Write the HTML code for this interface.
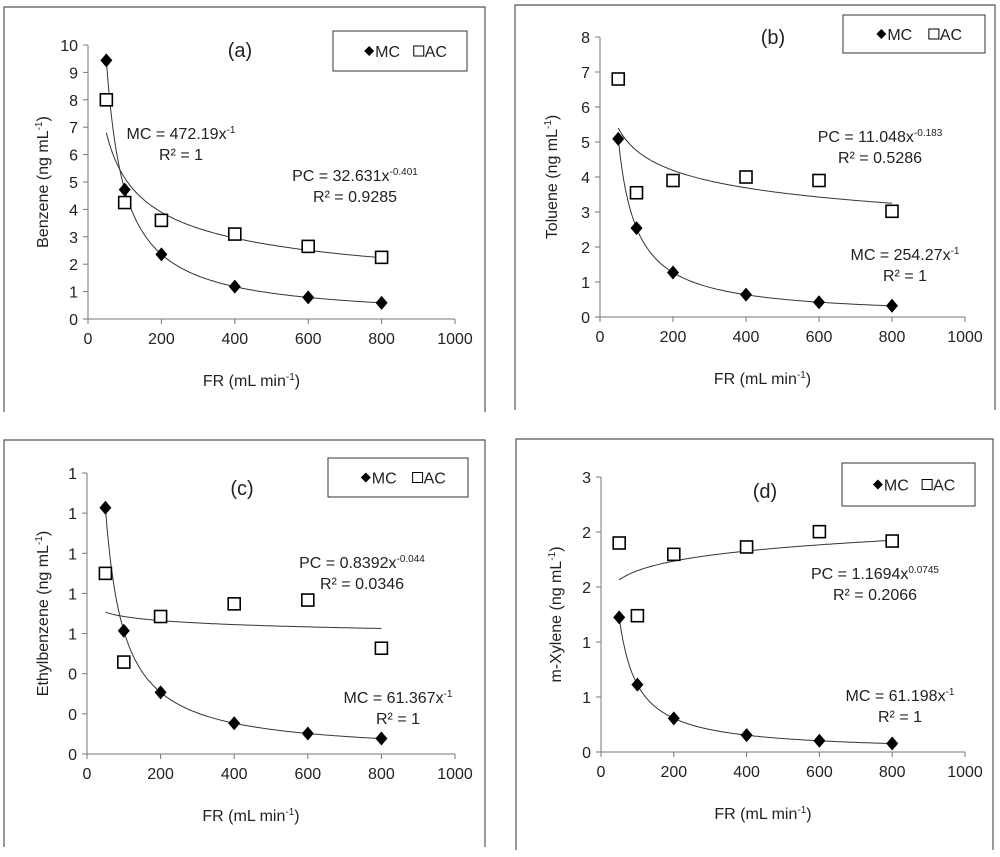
<!DOCTYPE html>
<html><head><meta charset="utf-8"><style>
body{margin:0;background:#fff;}
svg text{font-family:"Liberation Sans",sans-serif;fill:#222;}
</style></head><body>
<svg id="c" width="1000" height="852" viewBox="0 0 1000 852" xmlns="http://www.w3.org/2000/svg"></svg>
<script>
const xValues=[50,100,200,400,600,800];
const xTicks=[0,200,400,600,800,1000];
const mcA=[9.44,4.72,2.36,1.18,0.79,0.59];
const acA=[8.0,4.25,3.6,3.1,2.65,2.25];
const mcB=[5.09,2.54,1.27,0.64,0.42,0.32];
const acB=[6.8,3.55,3.9,4.0,3.9,3.02];
const mcC=[1.227,0.614,0.307,0.153,0.102,0.077];
const acC=[0.90,0.458,0.685,0.748,0.767,0.527];
const mcD=[1.224,0.612,0.306,0.153,0.102,0.077];
const acD=[1.90,1.239,1.797,1.864,2.003,1.918];
const yTicksA=[0,1,2,3,4,5,6,7,8,9,10];
const yTicksB=[0,1,2,3,4,5,6,7,8];
const yTicksC=[0,0.2,0.4,0.6,0.8,1.0,1.2,1.4];
const yTicksD=[0,0.5,1,1.5,2,2.5];
const mcCoef=[472.19,254.27,61.367,61.198];
const pcCoef=[32.631,11.048,0.8392,1.1694];
const pcExp=[-0.401,-0.183,-0.044,0.0745];

const NS="http://www.w3.org/2000/svg";
const svg=document.getElementById('c');
function mk(t,a,p){const e=document.createElementNS(NS,t);for(const k in a)e.setAttribute(k,a[k]);(p||svg).appendChild(e);return e;}
function txt(s,x,y,size,anchor,p){const e=mk('text',{x:x,y:y,'font-size':size,'text-anchor':anchor||'middle'},p);e.textContent=s;return e;}

const panels=[
 {id:'a',mc:mcA,ac:acA,yt:yTicksA,ymax:10,x0:88,x1:455,y0:319,y1:45,frame:[4,7,485,412],leg:[333,31,134,40],lab:[240,57],ytitle:'Benzene (ng mL',ytx:48,mcT:[181,139],pcT:[355,181]},
 {id:'b',mc:mcB,ac:acB,yt:yTicksB,ymax:8,x0:600,x1:965,y0:317,y1:37,frame:[515,5,995,410],leg:[843,15,142,38],lab:[773,44],ytitle:'Toluene (ng mL',ytx:557,mcT:[905,260],pcT:[880,142]},
 {id:'c',mc:mcC,ac:acC,yt:yTicksC,ymax:1.4,x0:87,x1:455,y0:754,y1:473,frame:[4,440,485,847],leg:[328,458,140,39],lab:[242,495],ytitle:'Ethylbenzene (ng mL',ytx:48,mcT:[398,703],pcT:[362,568]},
 {id:'d',mc:mcD,ac:acD,yt:yTicksD,ymax:2.5,x0:601,x1:965,y0:752,y1:477,frame:[516,439,993,850],leg:[842,463,133,43],lab:[765,498],ytitle:'m-Xylene (ng mL',ytx:561,mcT:[900,701],pcT:[875,579]}
];
const mcLbl=['MC = 472.19x','MC = 254.27x','MC = 61.367x','MC = 61.198x'];
const pcLbl=['PC = 32.631x','PC = 11.048x','PC = 0.8392x','PC = 1.1694x'];
const pcSup=['-0.401','-0.183','-0.044','0.0745'];
const pcR=['R² = 0.9285','R² = 0.5286','R² = 0.0346','R² = 0.2066'];

panels.forEach((P,i)=>{
 const g=mk('g',{});
 
 
 const X=v=>P.x0+(P.x1-P.x0)*v/1000;
 const Y=v=>P.y0-(P.y0-P.y1)*v/P.ymax;
 const f=P.frame;
 const fr=mk('path',{d:`M${f[0]},${f[3]}V${f[1]}H${f[2]}V${f[3]}`,fill:'none',stroke:'#555','stroke-width':1.2},g);
 
 
 const ax=mk('path',{d:`M${P.x0},${P.y1}V${P.y0}H${P.x1}`,fill:'none',stroke:'#777','stroke-width':1},g);
 
 
 P.yt.forEach(v=>{
  mk('line',{x1:P.x0-5,x2:P.x0,y1:Y(v),y2:Y(v),stroke:'#777'},g);
  const t=txt(String(Math.round(v+1e-9)),P.x0-10,Y(v)+6,16,'end',g);
  
  
 });
 xTicks.forEach(v=>{
  mk('line',{x1:X(v),x2:X(v),y1:P.y0,y2:P.y0+5,stroke:'#777'},g);
  const t=txt(String(v),X(v),P.y0+25,16,'middle',g);
  
  
 });
 const xt=txt('',(P.x0+P.x1)/2-20,P.y0+67,16,'middle',g);
 xt.innerHTML='FR  (mL min<tspan dy="-6" font-size="10">-1</tspan><tspan dy="6">)</tspan>';
 
 
 const yt=txt('',0,0,16,'middle',g);
 yt.innerHTML=P.ytitle+'<tspan dy="-6" font-size="10">-1</tspan><tspan dy="6">)</tspan>';
 yt.setAttribute('transform',`translate(${P.ytx},${(P.y0+P.y1)/2}) rotate(-90)`);
 
 
 let d='';for(let x=50;x<=800;x+=5){d+=(x==50?'M':'L')+X(x).toFixed(1)+','+Y(mcCoef[i]/x).toFixed(1);}
 const l1=mk('path',{d:d,fill:'none',stroke:'#333','stroke-width':1},g);
 
 
 d='';for(let x=50;x<=800;x+=5){d+=(x==50?'M':'L')+X(x).toFixed(1)+','+Y(pcCoef[i]*Math.pow(x,pcExp[i])).toFixed(1);}
 const l2=mk('path',{d:d,fill:'none',stroke:'#333','stroke-width':1},g);
 
 
 xValues.forEach((x,k)=>{
  const cx=X(x),cy=Y(P.ac[k]);
  const r=mk('rect',{x:cx-6,y:cy-6,width:12,height:12,fill:'#fff',stroke:'#000','stroke-width':1.6},g);
  
  
 });
 xValues.forEach((x,k)=>{
  const cx=X(x),cy=Y(P.mc[k]);
  const p=mk('path',{d:`M${cx},${cy-7}L${cx+6},${cy}L${cx},${cy+7}L${cx-6},${cy}Z`,fill:'#000'},g);
  
  
 });
 const L=P.leg;
 const lg=mk('g',{},g);
 
 
 mk('rect',{x:L[0],y:L[1],width:L[2],height:L[3],fill:'#fff',stroke:'#333','stroke-width':1},lg);
 const my=L[1]+L[3]/2;
 const lx=L[0]+L[2]*0.27;
 mk('path',{d:`M${lx},${my-5}L${lx+5},${my}L${lx},${my+5}L${lx-5},${my}Z`,fill:'#000'},lg);
 const e1=txt('MC',lx+6,my+6,16,'start',lg);
 
 
 const lx2=L[0]+L[2]*0.64;
 mk('rect',{x:lx2-5,y:my-5,width:10,height:10,fill:'#fff',stroke:'#000'},lg);
 const e2=txt('AC',lx2+6,my+6,16,'start',lg);
 
 
 const pl=txt('('+P.id+')',P.lab[0],P.lab[1],20,'middle',g);
 
 
 const m1=txt('',P.mcT[0],P.mcT[1],16,'middle',g);
 m1.innerHTML=mcLbl[i]+'<tspan dy="-6" font-size="10">-1</tspan>';
 
 
 const m2=txt('R² = 1',P.mcT[0],P.mcT[1]+21,16,'middle',g);
 
 
 const p1=txt('',P.pcT[0],P.pcT[1],16,'middle',g);
 p1.innerHTML=pcLbl[i]+'<tspan dy="-6" font-size="10">'+pcSup[i]+'</tspan>';
 
 
 const p2=txt(pcR[i],P.pcT[0],P.pcT[1]+21,16,'middle',g);
 
 
});
</script>
</body></html>
